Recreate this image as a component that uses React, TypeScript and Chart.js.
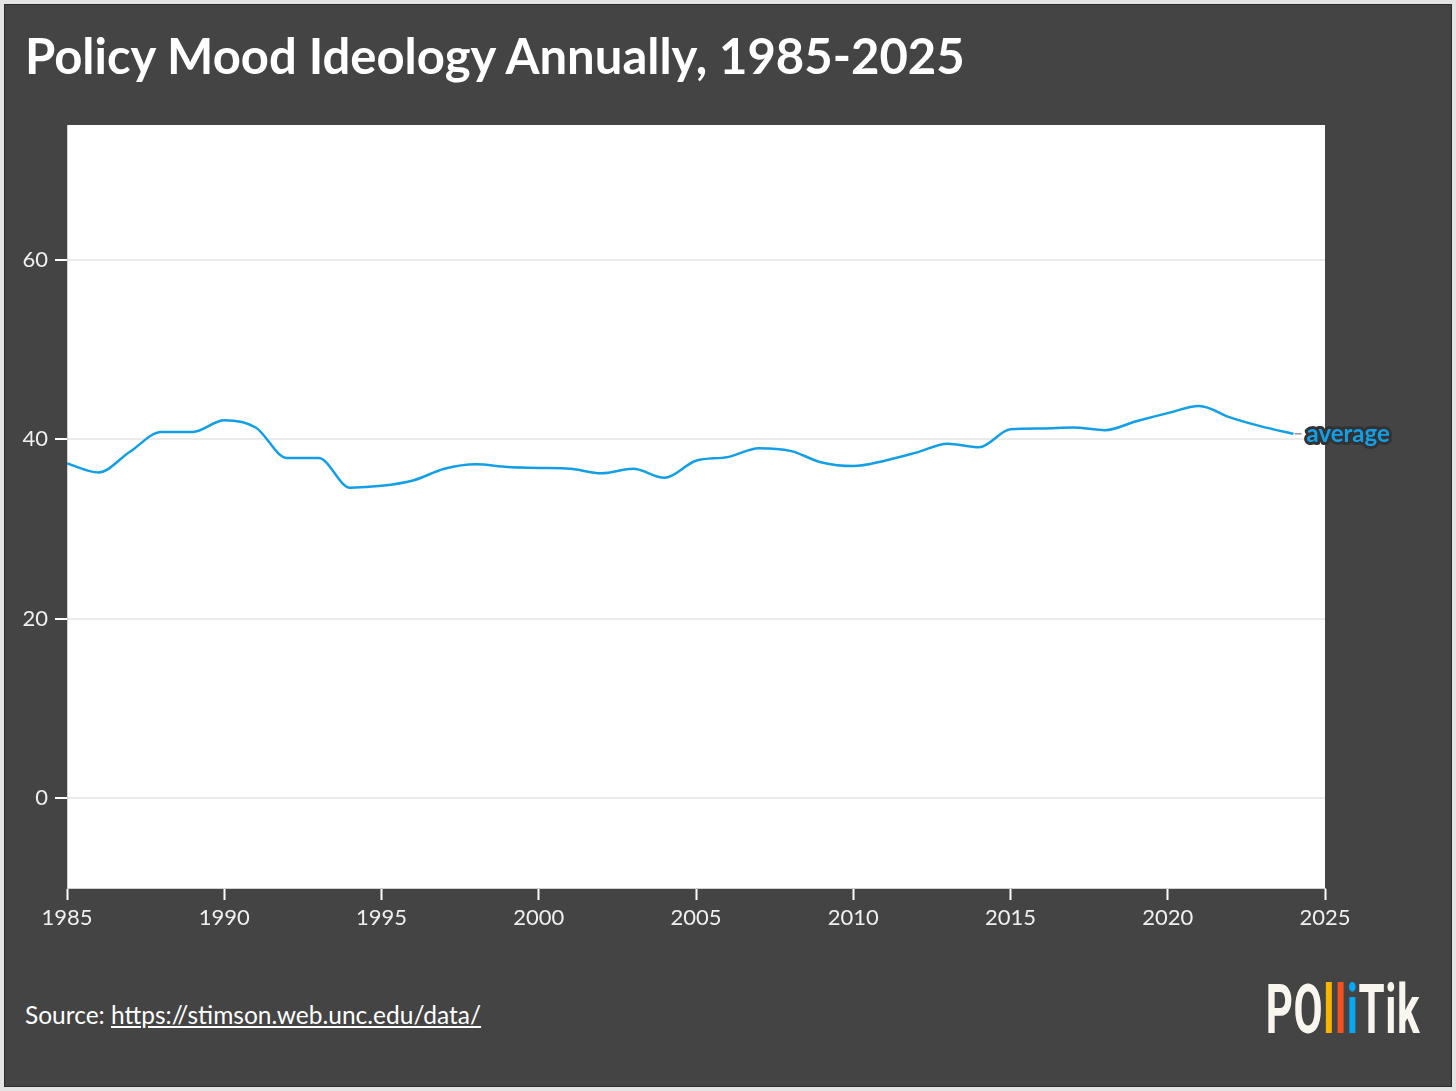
import { useEffect, useRef } from "react";
import { Chart, registerables } from "chart.js";

Chart.register(...registerables);

const years = [
  1985, 1986, 1987, 1988, 1989, 1990, 1991, 1992, 1993, 1994, 1995, 1996, 1997, 1998,
  1999, 2000, 2001, 2002, 2003, 2004, 2005, 2006, 2007, 2008, 2009, 2010, 2011, 2012,
  2013, 2014, 2015, 2016, 2017, 2018, 2019, 2020, 2021, 2022, 2023, 2024,
];
const mood = [
  37.3, 36.3, 38.6, 40.8, 40.8, 42.1, 41.3, 37.9, 37.9, 34.6, 34.8, 35.4, 36.7, 37.2,
  36.9, 36.8, 36.7, 36.2, 36.7, 35.7, 37.6, 38.0, 39.0, 38.7, 37.4, 37.0, 37.6, 38.5,
  39.5, 39.1, 41.1, 41.2, 41.3, 41.0, 42.0, 42.9, 43.7, 42.4, 41.4, 40.6,
];
const yearTicks = [1985, 1990, 1995, 2000, 2005, 2010, 2015, 2020, 2025];
const moodTicks = [0, 20, 40, 60];
const seriesLabel = "average";

const FONT = "Lato, 'Noto Sans', sans-serif";
const BLUE = "#139fe6";
const DARK = "#444444";

document.body.style.margin = "0";

// white plot area
const plotBackground = {
  id: "plotBackground",
  beforeDraw(chart: any) {
    const { ctx, chartArea } = chart;
    ctx.save();
    ctx.fillStyle = "#ffffff";
    ctx.fillRect(chartArea.left, chartArea.top, chartArea.right - chartArea.left, chartArea.bottom - chartArea.top);
    ctx.restore();
  },
};

// "average" label at the end of the line
const endLabel = {
  id: "endLabel",
  afterDatasetsDraw(chart: any) {
    const meta = chart.getDatasetMeta(0);
    const last = meta.data[meta.data.length - 1];
    if (!last) return;
    const { ctx } = chart;
    ctx.save();
    ctx.strokeStyle = "#999999";
    ctx.lineWidth = 1.5;
    ctx.beginPath();
    ctx.moveTo(last.x + 1, last.y);
    ctx.lineTo(last.x + 8, last.y);
    ctx.stroke();
    ctx.font = `bold 24px ${FONT}`;
    ctx.textBaseline = "middle";
    ctx.textAlign = "left";
    ctx.lineJoin = "round";
    ctx.lineWidth = 6;
    ctx.strokeStyle = "#333333";
    ctx.strokeText(seriesLabel, last.x + 13, last.y);
    ctx.fillStyle = BLUE;
    ctx.fillText(seriesLabel, last.x + 13, last.y);
    ctx.restore();
  },
};

const MoodChart = () => {
  const chartRef = useRef<HTMLCanvasElement | null>(null);

  useEffect(() => {
    if (!chartRef.current) return;
    const chart = new Chart(chartRef.current, {
      type: "line",
      data: {
        datasets: [
          {
            label: seriesLabel,
            data: years.map((y, i) => ({ x: y, y: mood[i] })),
            borderColor: BLUE,
            borderWidth: 2.5,
            pointRadius: 0,
            cubicInterpolationMode: "monotone",
            fill: false,
          },
        ],
      },
      options: {
        animation: false,
        responsive: true,
        maintainAspectRatio: false,
        layout: { padding: { top: 25, right: 131, bottom: 22, left: 0 } },
        plugins: { legend: { display: false }, tooltip: { enabled: false } },
        scales: {
          x: {
            type: "linear",
            min: 1985,
            max: 2025,
            afterBuildTicks: (s: any) => {
              s.ticks = yearTicks.map((v) => ({ value: v }));
            },
            afterFit: (s: any) => {
              s.height = 40;
            },
            grid: { drawOnChartArea: false, drawTicks: true, tickColor: "#ffffff", tickLength: 12, tickWidth: 2 },
            border: { color: "#d0d0d0", width: 1 },
            ticks: {
              color: "#f0f0f0",
              font: { family: FONT, size: 22 },
              padding: 5,
              maxRotation: 0,
              autoSkip: false,
              callback: (v: any) => String(v),
            },
          },
          y: {
            min: -10,
            max: 75,
            afterBuildTicks: (s: any) => {
              s.ticks = moodTicks.map((v) => ({ value: v }));
            },
            afterFit: (s: any) => {
              s.width = 67;
            },
            grid: { color: "#ebebeb", lineWidth: 2, tickColor: "#ffffff", tickLength: 12, tickWidth: 2 },
            border: { color: "#d0d0d0", width: 1 },
            ticks: {
              color: "#f0f0f0",
              font: { family: FONT, size: 22 },
              padding: 7,
              autoSkip: false,
            },
          },
        },
      },
      plugins: [plotBackground, endLabel],
    });
    return () => {
      chart.destroy();
    };
  }, []);

  return (
    <div style={{ position: "absolute", left: 0, top: 100, width: 1456, height: 850 }}>
      <canvas ref={chartRef} />
    </div>
  );
};

const Logo = () => (
  <div
    style={{
      position: "absolute",
      right: 36,
      top: 976,
      fontFamily: "Roboto, sans-serif",
      fontWeight: 700,
      fontSize: 68,
      color: "#f8f6ee",
      transform: "scaleX(0.62)",
      transformOrigin: "right center",
      letterSpacing: 1,
      lineHeight: 1,
    }}
  >
    PO<span style={{ color: "#f7b500" }}>l</span>
    <span style={{ color: "#f4511e" }}>l</span>
    <span style={{ color: "#03a9f4" }}>i</span>Tik
  </div>
);

export default function App() {
  return (
    <div style={{ position: "relative", width: 1456, height: 1091, background: "#e4e4e4", overflow: "hidden" }}>
      <div
        style={{
          position: "absolute",
          left: 4,
          top: 4,
          width: 1446,
          height: 1081,
          background: DARK,
          border: "1px solid #2c2c2c",
        }}
      />
      <div
        style={{
          position: "absolute",
          left: 25,
          top: 26,
          fontFamily: FONT,
          fontWeight: 700,
          fontSize: 49,
          color: "#ffffff",
          whiteSpace: "nowrap",
          lineHeight: 1.2,
        }}
      >
        Policy Mood Ideology Annually, 1985-2025
      </div>
      <MoodChart />
      <div
        style={{
          position: "absolute",
          left: 25,
          top: 1000,
          fontFamily: FONT,
          fontSize: 24.5,
          color: "#ffffff",
          whiteSpace: "nowrap",
        }}
      >
        Source:{" "}
        <span style={{ textDecoration: "underline" }}>https://stimson.web.unc.edu/data/</span>
      </div>
      <Logo />
    </div>
  );
}
